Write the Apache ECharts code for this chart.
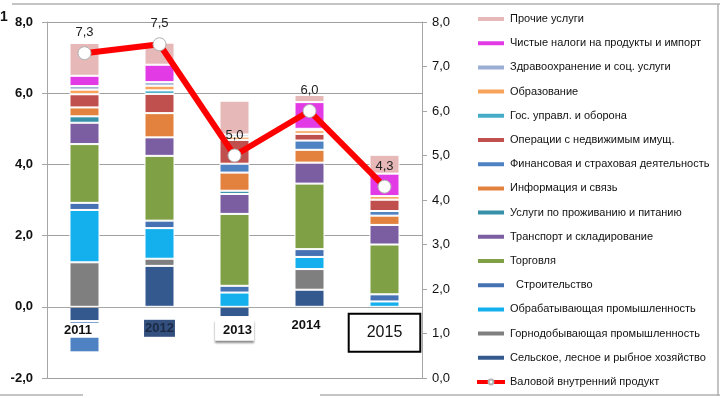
<!DOCTYPE html>
<html>
<head>
<meta charset="utf-8">
<script src="https://cdn.jsdelivr.net/npm/echarts@6/dist/echarts.min.js"></script>
<style>
	html, body { margin: 0; padding: 0; background: #fff; }
	#main { width: 720px; height: 398px; }
</style>
</head>
<body>
<div id="main"></div>
<script>
// categories
var years = ['2011', '2012', '2013', '2014', '2015'];

// contributions to growth, п.п.
var agri      = [-0.4, 1.15, -0.29, 0.48, 0];
var mining    = [1.25, 0.2, 0, 0.58, 0];
var manuf     = [1.47, 0.86, 0.4, 0.34, 0.15];
var constr    = [0.2, 0.21, 0.19, 0.22, 0.2];
var trade     = [1.65, 1.82, 2.02, 1.84, 1.4];
var transport = [0.6, 0.52, 0.56, 0.59, 0.55];
var accom     = [0.18, 0, 0.09, 0, 0];
var info      = [0.25, 0.68, 0.51, 0.36, 0.26];
var finance   = [-0.88, 0, 0.25, 0.26, 0.13];
var realty    = [0.37, 0.54, 0.67, 0.19, 0.32];
var gov       = [0, 0.1, 0, 0, 0];
var educ      = [0.13, 0.13, 0.09, 0.1, 0.1];
var health    = [0.1, 0.1, 0.06, 0.04, 0];
var taxes     = [0.29, 0.49, 0, 0.75, 0.63];
var other     = [0.92, 0.62, 0.95, 0.2, 0.53];

// GDP growth, % (right axis)
var gdp = [7.3, 7.5, 5.0, 6.0, 4.3];

// tick labels
var leftTicks = [-2, 0, 2, 4, 6, 8];
var rightTicks = [0, 1, 2, 3, 4, 5, 6, 7, 8];

var font = 'Liberation Sans';
var gridTop = 22, gridBottom = 20, chartH = 398;

// stack order from bottom to top
var barDefs = [
	['Сельское, лесное и рыбное хозяйство', agri, '#34598f'],
	['Горнодобывающая промышленность', mining, '#7f7f7f'],
	['Обрабатывающая промышленность', manuf, '#14b0ee'],
	['  Строительство', constr, '#4672b4'],
	['Торговля', trade, '#80a046'],
	['Транспорт и складирование', transport, '#7b5ea1'],
	['Услуги по проживанию и питанию', accom, '#3590a8'],
	['Информация и связь', info, '#e3823e'],
	['Финансовая и страховая деятельность', finance, '#4f82c2'],
	['Операции с недвижимым имущ.', realty, '#c0504d'],
	['Гос. управл. и оборона', gov, '#45acc8'],
	['Образование', educ, '#f7a35c'],
	['Здравоохранение и соц. услуги', health, '#9aaed3'],
	['Чистые налоги на продукты и импорт', taxes, '#e23be6'],
	['Прочие услуги', other, '#e6b9b8']
];
var gdpName = 'Валовой внутренний продукт';

function comma(v) {
	return Number(v).toFixed(1).replace('.', ',');
}

var series = [];
var legendData = [];
barDefs.forEach(function(d) {
	series.push({
		name: d[0],
		type: 'bar',
		stack: 'total',
		barWidth: 30,
		data: d[1],
		itemStyle: { color: d[2], borderColor: '#fff', borderWidth: 1 },
		emphasis: { disabled: true }
	});
});
for (var i = barDefs.length - 1; i >= 0; i--) {
	legendData.push({ name: barDefs[i][0], icon: 'rect' });
}
legendData.push({ name: gdpName, lineStyle: { width: 4 } });

series.push({
	name: gdpName,
	type: 'line',
	yAxisIndex: 1,
	z: 5,
	data: gdp,
	symbol: 'circle',
	symbolSize: 13,
	lineStyle: { color: '#ff0000', width: 6 },
	itemStyle: { color: '#fff', borderColor: '#b0b0b0', borderWidth: 1 },
	label: {
		show: true,
		position: 'top',
		distance: 7,
		fontFamily: font,
		fontSize: 13,
		color: '#222',
		formatter: function(p) { return comma(p.value); }
	}
});

// onZero does not kick in here, so lift the category axis up to the 0 level by hand
var minL = leftTicks[0], maxL = leftTicks[leftTicks.length - 1];
var zeroOffset = -(chartH - gridTop - gridBottom) * (0 - minL) / (maxL - minL);

var chart = echarts.init(document.getElementById('main'));
var option = {
	animation: false,
	backgroundColor: '#fff',
	textStyle: { fontFamily: font },
	grid: { left: 47, right: 298, top: gridTop, bottom: gridBottom, outerBoundsMode: 'none', containLabel: false },
	legend: {
		orient: 'vertical',
		left: 475,
		top: 12,
		padding: 0,
		itemWidth: 28,
		itemHeight: 6,
		itemGap: 10.2,
		data: legendData,
		textStyle: { fontFamily: font, fontSize: 11, color: '#111', lineHeight: 14 }
	},
	xAxis: {
		type: 'category',
		data: years,
		z: 10,
		position: 'bottom',
		offset: zeroOffset,
		axisLine: { onZero: false, lineStyle: { color: '#a6a6a6' } },
		axisTick: { length: 4, lineStyle: { color: '#a6a6a6' } },
		axisLabel: {
			interval: 0,
			margin: 3,
			formatter: function(v, idx) { return '{s' + idx + '|' + v + '}'; },
			rich: {
				s0: { fontFamily: font, fontSize: 13, fontWeight: 'bold', color: '#111', backgroundColor: '#fff',
					padding: [1, 15, 1, 2], lineHeight: 28, verticalAlign: 'bottom' },
				s1: { fontFamily: font, fontSize: 13, fontWeight: 'bold', color: '#1a2a44', backgroundColor: '#34507e',
					padding: [2, 1, 2, 1], lineHeight: 27, verticalAlign: 'bottom' },
				s2: { fontFamily: font, fontSize: 13, fontWeight: 'bold', color: '#111', backgroundColor: '#fff',
					padding: [4, 2, 4, 8], lineHeight: 31, verticalAlign: 'bottom',
					shadowColor: 'rgba(0,0,0,0.45)', shadowBlur: 2, shadowOffsetY: 2 },
				s3: { fontFamily: font, fontSize: 13, fontWeight: 'bold', color: '#111',
					padding: [0, 7, 0, 0], lineHeight: 22, verticalAlign: 'bottom' },
				s4: { fontFamily: font, fontSize: 16, color: '#111', borderColor: '#000', borderWidth: 2,
					padding: [11, 18, 11, 18], lineHeight: 42, verticalAlign: 'bottom' }
			}
		}
	},
	yAxis: [
		{
			type: 'value',
			min: minL,
			max: maxL,
			interval: 2,
			axisLine: { show: true, lineStyle: { color: '#a6a6a6' } },
			axisTick: { show: true, length: 5, lineStyle: { color: '#a6a6a6' } },
			splitLine: { lineStyle: { color: '#a0a0a0' } },
			axisLabel: { margin: 14, fontFamily: font, fontSize: 13, fontWeight: 'bold', color: '#111', formatter: comma }
		},
		{
			type: 'value',
			position: 'right',
			min: rightTicks[0],
			max: rightTicks[rightTicks.length - 1],
			interval: 1,
			axisLine: { show: true, lineStyle: { color: '#a6a6a6' } },
			axisTick: { show: true, length: 5, lineStyle: { color: '#a6a6a6' } },
			splitLine: { show: false },
			axisLabel: { margin: 10, fontFamily: font, fontSize: 13, color: '#111', formatter: comma }
		}
	],
	graphic: [
		{ type: 'line', shape: { x1: 12, y1: 4, x2: 720, y2: 4 }, style: { stroke: '#b0b0b0', lineWidth: 1.5 } },
		{ type: 'line', shape: { x1: 718, y1: 4, x2: 718, y2: 396 }, style: { stroke: '#b0b0b0', lineWidth: 1.5 } },
		{ type: 'line', shape: { x1: 0, y1: 395, x2: 83, y2: 395 }, style: { stroke: '#b0b0b0', lineWidth: 1.5 } },
		{ type: 'line', shape: { x1: 320, y1: 395, x2: 720, y2: 395 }, style: { stroke: '#b0b0b0', lineWidth: 1.5 } },
		{ type: 'text', left: 0, top: 10, style: { text: '1', font: 'bold 14px ' + font, fill: '#111' } }
	],
	series: series
};
chart.setOption(option);
</script>
</body>
</html>
